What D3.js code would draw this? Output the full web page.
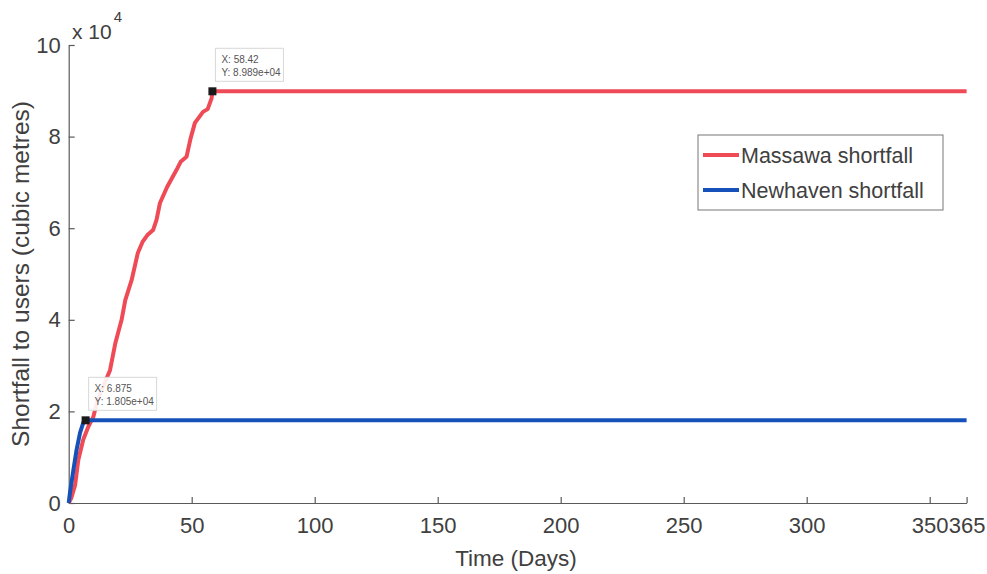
<!DOCTYPE html>
<html><head><meta charset="utf-8">
<script src="https://cdn.jsdelivr.net/npm/d3@7"></script>
<style>body{margin:0;background:#fff}svg{display:block}text{font-family:"Liberation Sans",Arial,sans-serif}</style>
</head><body><svg id="c" width="987" height="574"></svg>
<script>
// Data (values in cubic metres)
const massawaDays = [0,1,2.6,3.9,5.9,8.0,10.0,11.5,13.4,16.8,19,21.5,23,25.6,28.1,30,32,34.3,35.7,37.1,40,43.8,45.5,47.9,49.5,51.3,54.6,56.5,58.1,58.42,365];
const massawaValues = [0,1000,3900,9400,13800,16700,18800,22000,24700,29000,35000,40000,44300,48700,54600,57000,58500,59600,61800,65500,69000,72700,74500,75600,79500,83000,85400,86000,88400,89890,89890];
const newhavenDays = [0,0.5,1.9,3.2,4.6,5.9,6.875,365];
const newhavenValues = [0,2200,7200,11600,15300,17500,18050,18050];
const xTicks = [0,50,100,150,200,250,300,350,365];
const yTicks = [0,20000,40000,60000,80000,100000];
const seriesNames = ["Massawa shortfall","Newhaven shortfall"];
const tips = [
  {x:58.42, y:89890, l1:"X: 58.42", l2:"Y: 8.989e+04"},
  {x:6.875, y:18050, l1:"X: 6.875", l2:"Y: 1.805e+04"}
];

const svg = d3.select("#c");
const red = "#ef4b57", blue = "#1551b8", axisCol = "#5a5a5a", txt = "#404040";
const x = d3.scaleLinear().domain([0,365]).range([68.7,966.6]);
const y = d3.scaleLinear().domain([0,100000]).range([503,45]);

// axes
const xa = svg.append("g").attr("transform","translate(0,503)")
  .call(d3.axisBottom(x).tickValues(xTicks).tickSizeInner(-6).tickSizeOuter(0).tickPadding(14).tickFormat(d3.format("d")));
const ya = svg.append("g").attr("transform","translate(68.7,0)")
  .call(d3.axisLeft(y).tickValues(yTicks).tickSizeInner(-6).tickSizeOuter(0).tickPadding(8).tickFormat(d=>d/10000));
[xa,ya].forEach(a=>{
  a.select(".domain").attr("stroke",axisCol).attr("stroke-width",1.2);
  a.selectAll(".tick line").attr("stroke",axisCol).attr("stroke-width",1.2);
  a.selectAll(".tick text").attr("fill",txt).attr("font-size",22);
});
xa.selectAll(".tick text").attr("dy","0.71em");

// exponent label
const ex = svg.append("text").attr("x",72).attr("y",39).attr("fill",txt).attr("font-size",21);
ex.append("tspan").text("x 10");
ex.append("tspan").attr("dy",-17).attr("dx",2).attr("font-size",15).text("4");

// axis titles
svg.append("text").attr("x",516).attr("y",566).attr("text-anchor","middle").attr("fill",txt).attr("font-size",22.5).text("Time (Days)");
svg.append("text").attr("transform","translate(29,274) rotate(-90)").attr("text-anchor","middle").attr("fill",txt).attr("font-size",24.5).text("Shortfall to users (cubic metres)");

// lines
const line = d3.line().x(d=>x(d[0])).y(d=>y(d[1]));
const mData = massawaDays.map((d,i)=>[d,massawaValues[i]]);
const nData = newhavenDays.map((d,i)=>[d,newhavenValues[i]]);
svg.append("path").datum(mData).attr("d",line).attr("fill","none").attr("stroke",red).attr("stroke-width",4).attr("stroke-linejoin","round");
svg.append("path").datum(nData).attr("d",line).attr("fill","none").attr("stroke",blue).attr("stroke-width",4).attr("stroke-linejoin","round");

// data tips
tips.forEach(t=>{
  const px = x(t.x), py = y(t.y);
  const g = svg.append("g");
  g.append("rect").attr("x",px+3).attr("y",py-43).attr("width",68).attr("height",33)
    .attr("fill","#fff").attr("fill-opacity",0.9).attr("stroke","#d8d8d8").attr("stroke-width",1);
  g.append("text").attr("x",px+9).attr("y",py-28).attr("font-size",10).attr("fill","#555").text(t.l1);
  g.append("text").attr("x",px+9).attr("y",py-15).attr("font-size",10).attr("fill","#555").text(t.l2);
  g.append("rect").attr("x",px-4).attr("y",py-4).attr("width",8).attr("height",8).attr("fill","#1a1a1a");
});

// legend
const lg = svg.append("g");
lg.append("rect").attr("x",698).attr("y",135).attr("width",245).attr("height",75).attr("fill","#fff").attr("stroke","#777").attr("stroke-width",1);
[red,blue].forEach((c,i)=>{
  const yy = 155 + i*35;
  lg.append("line").attr("x1",703).attr("x2",739).attr("y1",yy).attr("y2",yy).attr("stroke",c).attr("stroke-width",4);
  lg.append("text").attr("x",741).attr("y",yy+8).attr("font-size",21.5).attr("fill",txt).text(seriesNames[i]);
});
</script></body></html>
